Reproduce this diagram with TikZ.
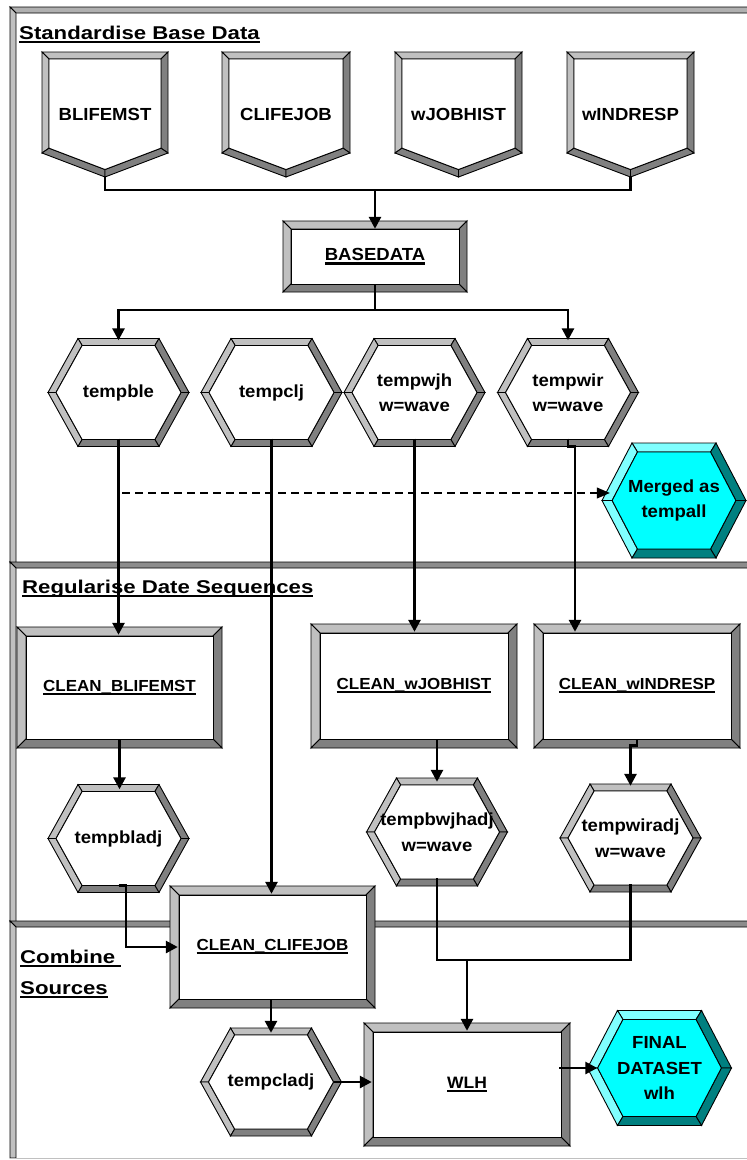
\documentclass[tikz,border=0pt]{standalone}
\usepackage{fontspec}
\setmainfont{Liberation Sans}[FakeStretch=1.06]
\newfontfamily\titlef{Liberation Sans}[FakeStretch=1.2]
\usetikzlibrary{arrows.meta,calc}
\definecolor{glight}{HTML}{C0C0C0}
\definecolor{gdark}{HTML}{808080}
\definecolor{gfill}{HTML}{FFFFFF}
\definecolor{clight}{HTML}{80FFFF}
\definecolor{cdark}{HTML}{008080}
\definecolor{cfill}{HTML}{00FFFF}
\definecolor{frtop}{HTML}{B0B0B0}
\definecolor{frdiv}{HTML}{8C8C8C}
\newcommand\nodef{\fontsize{17.5}{25.5}\selectfont\bfseries}
\newcommand\boxf{\fontsize{16}{20}\selectfont\bfseries}
\newcommand\ttlf{\titlef\fontsize{18.5}{26}\selectfont\bfseries}
\newcommand\ulin[1]{\setbox0\hbox{#1}\rlap{\rule[-3.8pt]{\wd0}{2.2pt}}\box0}
\tikzset{
  bev/.style={draw=black, line width=0.9pt},
  shapetext/.style={draw=none, inner sep=0pt, align=center},
  conn/.style={draw=black, line width=2.7pt},
  arr/.style={conn, -{Triangle[length=12pt,width=12pt]}},
  into/.style={shorten >=-8pt},
  dashconn/.style={draw=black, line width=1.1pt, dash pattern=on 8pt off 5pt, -{Triangle[length=13pt,width=11pt]}},
  title/.style={anchor=base west, inner sep=0pt, font=\ttlf}
}
% beveled rectangle: name, x1, y1, x2, y2, bevel, text
\newcommand\rectbev[7]{%
  \pgfmathsetmacro\ax{#2+#6}\pgfmathsetmacro\ay{#3+#6}%
  \pgfmathsetmacro\bx{#4-#6}\pgfmathsetmacro\by{#5-#6}%
  \filldraw[bev,fill=glight] (#2,#3) -- (#4,#3) -- (\bx,\ay) -- (\ax,\ay) -- cycle;
  \filldraw[bev,fill=glight] (#2,#3) -- (\ax,\ay) -- (\ax,\by) -- (#2,#5) -- cycle;
  \filldraw[bev,fill=gdark] (#4,#3) -- (#4,#5) -- (\bx,\by) -- (\bx,\ay) -- cycle;
  \filldraw[bev,fill=gdark] (#2,#5) -- (\ax,\by) -- (\bx,\by) -- (#4,#5) -- cycle;
  \filldraw[bev,fill=white] (\ax,\ay) rectangle (\bx,\by);
  \pgfmathsetmacro\cx{(#2+#4)/2}\pgfmathsetmacro\cy{(#3+#5)/2}%
  \pgfmathsetmacro\bw{#4-#2}\pgfmathsetmacro\bh{#5-#3}%
  \node[shapetext, font=\boxf, minimum width=\bw pt, minimum height=\bh pt] (#1) at (\cx,\cy) {#7};
}
% hexagon: name, cx, cy, halfwidth, halfheight, slant, bevel, palette, text
\newcommand\hexbev[9]{%
  \pgfmathsetmacro\hs{#7*sqrt(#6*#6+#5*#5)/#5}%
  \pgfmathsetmacro\hd{#6*#7/#5}%
  \pgfmathsetmacro\xL{#2-#4}\pgfmathsetmacro\xR{#2+#4}%
  \pgfmathsetmacro\xTL{#2-#4+#6}\pgfmathsetmacro\xTR{#2+#4-#6}%
  \pgfmathsetmacro\yT{#3-#5}\pgfmathsetmacro\yB{#3+#5}%
  \pgfmathsetmacro\iL{#2-#4+\hs}\pgfmathsetmacro\iR{#2+#4-\hs}%
  \pgfmathsetmacro\iTL{#2-#4+#6-\hd+\hs}\pgfmathsetmacro\iTR{#2+#4-#6+\hd-\hs}%
  \pgfmathsetmacro\iT{#3-#5+#7}\pgfmathsetmacro\iB{#3+#5-#7}%
  \filldraw[bev,fill=#8light] (\xTL,\yT) -- (\xTR,\yT) -- (\iTR,\iT) -- (\iTL,\iT) -- cycle;
  \filldraw[bev,fill=#8light] (\xL,#3) -- (\xTL,\yT) -- (\iTL,\iT) -- (\iL,#3) -- cycle;
  \filldraw[bev,fill=#8light] (\xL,#3) -- (\iL,#3) -- (\iTL,\iB) -- (\xTL,\yB) -- cycle;
  \filldraw[bev,fill=#8dark] (\xTR,\yT) -- (\xR,#3) -- (\iR,#3) -- (\iTR,\iT) -- cycle;
  \filldraw[bev,fill=#8dark] (\xR,#3) -- (\xTR,\yB) -- (\iTR,\iB) -- (\iR,#3) -- cycle;
  \filldraw[bev,fill=#8dark] (\xTL,\yB) -- (\iTL,\iB) -- (\iTR,\iB) -- (\xTR,\yB) -- cycle;
  \filldraw[bev,fill=#8fill] (\iL,#3) -- (\iTL,\iT) -- (\iTR,\iT) -- (\iR,#3) -- (\iTR,\iB) -- (\iTL,\iB) -- cycle;
  \pgfmathsetmacro\bw{2*#4}\pgfmathsetmacro\bh{2*#5}%
  \node[shapetext, font=\nodef, minimum width=\bw pt, minimum height=\bh pt] (#1) at (#2,#3) {#9};
}
\newcommand\greyhex[4]{\hexbev{#1}{#2}{#3}{70.5}{54}{30}{7}{g}{#4}}
\newcommand\cyanhex[4]{\hexbev{#1}{#2}{#3}{72}{57.5}{30}{9}{c}{#4}}
% document shape: name, x1, y1, x2, ys, yt, bevel, text
\newcommand\docbev[8]{%
  \pgfmathsetmacro\xc{(#2+#4)/2}%
  \pgfmathsetmacro\ddx{(#4-#2)/2}\pgfmathsetmacro\ddy{#6-#5}%
  \pgfmathsetmacro\vv{#7*sqrt(\ddx*\ddx+\ddy*\ddy)/\ddx}%
  \pgfmathsetmacro\ysi{#5+\ddy*#7/\ddx-\vv}\pgfmathsetmacro\yti{#6-\vv}%
  \pgfmathsetmacro\ax{#2+#7}\pgfmathsetmacro\bx{#4-#7}\pgfmathsetmacro\ay{#3+#7}%
  \filldraw[bev,fill=glight] (#2,#3) -- (#4,#3) -- (\bx,\ay) -- (\ax,\ay) -- cycle;
  \filldraw[bev,fill=glight] (#2,#3) -- (\ax,\ay) -- (\ax,\ysi) -- (#2,#5) -- cycle;
  \filldraw[bev,fill=gdark] (#4,#3) -- (#4,#5) -- (\bx,\ysi) -- (\bx,\ay) -- cycle;
  \filldraw[bev,fill=gdark] (#2,#5) -- (\ax,\ysi) -- (\xc,\yti) -- (\xc,#6) -- cycle;
  \filldraw[bev,fill=gdark] (\xc,#6) -- (\xc,\yti) -- (\bx,\ysi) -- (#4,#5) -- cycle;
  \filldraw[bev,fill=white] (\ax,\ay) -- (\bx,\ay) -- (\bx,\ysi) -- (\xc,\yti) -- (\ax,\ysi) -- cycle;
  \pgfmathsetmacro\cy{(#3+#6)/2}%
  \pgfmathsetmacro\bw{#4-#2}\pgfmathsetmacro\bh{#6-#3}%
  \node[shapetext, font=\nodef, minimum width=\bw pt, minimum height=\bh pt] (#1) at (\xc,\cy) {#8};
}
\begin{document}
\begin{tikzpicture}[x=1pt,y=-1pt]
\useasboundingbox (0,0) rectangle (747,1160);
\fill[white] (0,0) rectangle (747,1160);
% ---- lanes frame ----
\filldraw[bev, fill=frtop] (10,7) -- (750,7) -- (750,13) -- (16,13) -- cycle;
\filldraw[bev, fill=glight] (10,7) -- (16,13) -- (16,563) -- (10,563) -- cycle;
\filldraw[bev, fill=frdiv] (10,562) -- (750,562) -- (750,568) -- (16,568) -- cycle;
\filldraw[bev, fill=glight] (10,562) -- (16,568) -- (16,922) -- (10,922) -- cycle;
\filldraw[bev, fill=frdiv] (10,921) -- (750,921) -- (750,927) -- (16,927) -- cycle;
\filldraw[bev, fill=glight] (10,921) -- (16,927) -- (16,1158) -- (10,1158) -- cycle;
\draw[glight, line width=1.5pt] (10,1158.5) -- (750,1158.5);
% ---- lane titles ----
\node[title] (t1) at (19,39) {\ulin{Standardise Base Data}};
\node[title] (t2) at (22,593) {\ulin{Regularise Date Sequences}};
\node[title] (t3a) at (20,963) {\ulin{Combine\ }};
\node[title] (t3b) at (20,994) {\ulin{Sources}};
% ---- source documents ----
\docbev{blifemst}{42}{52}{168}{153}{177}{7}{BLIFEMST}
\docbev{clifejob}{222}{52}{350}{153}{177}{7}{CLIFEJOB}
\docbev{wjobhist}{395}{52}{522}{153}{177}{7}{wJOBHIST}
\docbev{windresp}{567}{52}{694}{153}{177}{7}{wINDRESP}
% ---- boxes ----
\rectbev{basedata}{283}{221}{467}{292}{8}{\fontsize{17.5}{20}\selectfont\ulin{BASEDATA}}
\rectbev{cleanbl}{17}{627}{222}{748}{9}{\ulin{CLEAN\_BLIFEMST}}
\rectbev{cleanwjh}{311}{624}{517}{748}{9}{\ulin{CLEAN\_wJOBHIST}}
\rectbev{cwir}{534}{624}{740}{748}{9}{\ulin{CLEAN\_wINDRESP}}
\rectbev{cleancl}{170}{886}{375}{1008}{9}{\ulin{CLEAN\_CLIFEJOB}}
\rectbev{wlh}{364}{1023}{570}{1146}{9}{\fontsize{16.5}{20}\selectfont\ulin{WLH}}
% ---- hexagons ----
\greyhex{tempble}{118.5}{392.5}{tempble}
\greyhex{tempclj}{271.5}{392.5}{tempclj}
\greyhex{tempwjh}{414.5}{392.5}{tempwjh\\w=wave}
\greyhex{tempwir}{568}{392.5}{tempwir\\w=wave}
\greyhex{tempbladj}{118.5}{838.5}{tempbladj}
\greyhex{tempbwjhadj}{437}{832}{tempbwjhadj\\w=wave}
\greyhex{tempwiradj}{630.5}{838}{tempwiradj\\w=wave}
\greyhex{tempcladj}{271}{1082}{tempcladj}
\cyanhex{merged}{674}{500.5}{Merged as\\tempall}
\cyanhex{final}{659.5}{1068}{FINAL\\DATASET\\wlh}
% ---- connectors ----
\coordinate (j1) at (375,190);
\draw[conn] (blifemst.south) |- (j1) -| (windresp.south);
\draw[arr,into] (j1) -- (basedata.north);
\coordinate (j2) at (375,310);
\draw[conn] ([yshift=8pt]basedata.south) -- (j2);
\draw[arr,shorten >=-2pt] (j2) -| (tempble.north);
\draw[arr,shorten >=-2pt] (j2) -| (tempwir.north);
\draw[arr,into] ([yshift=8pt]tempble.south) -- (tempble.south |- cleanbl.north);
\draw[arr,into] ([yshift=8pt]tempclj.south) -- (tempclj.south |- cleancl.north);
\draw[arr,into] ([yshift=8pt]tempwjh.south) -- (tempwjh.south |- cleanwjh.north);
\path ([xshift=-62pt]cwir.north) coordinate (cwirin);
\draw[arr,into] ([yshift=8pt]tempwir.south) -- ++(0,8) -| (cwirin);
\draw[arr,shorten >=-5pt] ([yshift=8pt]cleanbl.south) -- (cleanbl.south |- tempbladj.north);
\path (tempbwjhadj.north |- cleanwjh.south) coordinate (s1);
\draw[arr,shorten >=-4pt] ([yshift=8pt]s1) -- (tempbwjhadj.north);
\draw[arr,shorten >=-2pt] ([yshift=8pt]cwir.south) -- ++(0,5) -| (tempwiradj.north);
\draw[arr,into] ([yshift=7pt]tempbladj.south) -- ++(7.5,0) |- (cleancl.west);
\path (tempcladj.north |- cleancl.south) coordinate (s2);
\draw[arr,shorten >=-5pt] ([yshift=8pt]s2) -- (tempcladj.north);
\coordinate (j3) at (467,960);
\draw[conn] ([yshift=8pt]tempbwjhadj.south) |- (j3) -| ([yshift=8pt]tempwiradj.south);
\draw[arr,into] (j3) -- (wlh.north);
\draw[arr,into] ([xshift=-8pt]tempcladj.east) -- (tempcladj.east -| wlh.west);
\path ([xshift=-11pt]wlh.east) coordinate (s3);
\draw[arr,shorten >=-10pt] (s3 |- final.west) -- (final.west);
\coordinate (dstart) at (122,493);
\path ([xshift=8pt]merged.west) coordinate (m1);
\draw[dashconn] (dstart) -- (dstart -| m1);
\end{tikzpicture}
\end{document}
